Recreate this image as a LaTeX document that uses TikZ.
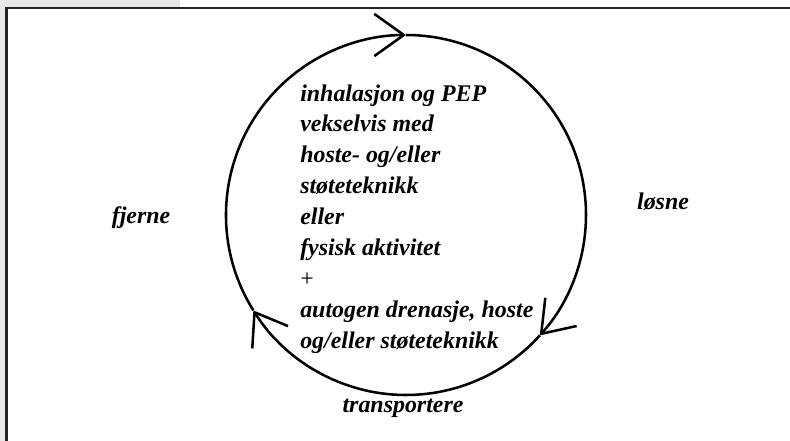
\documentclass[tikz,border=0pt]{standalone}
\usepackage{fontspec}
\setmainfont{Liberation Serif}
\usetikzlibrary{arrows.meta}
\definecolor{pagegray}{RGB}{230,231,232}
\definecolor{framegray}{RGB}{35,35,35}

\begin{document}
\begin{tikzpicture}[x=0.025cm,y=0.025cm,
                    cycle line/.style={line width=1.8pt,
                      -{Straight Barb[length=21pt,width=30pt,line width=1.8pt]}},
                    word node/.style={font=\fontsize{17}{22}\selectfont\bfseries\itshape,
                      inner sep=0pt}]
  \useasboundingbox (0,0) rectangle (790,-441);
  \fill[pagegray] (0,0) rectangle (180,-7.5);
  \fill[pagegray] (0,0) rectangle (5.5,-441);
  \draw[framegray,line width=1.5pt] (6.5,-441) |- (790,-8);

  \coordinate (c) at (406,-215);

  \node[word node,align=left,anchor=west] (tekst) at (300,-219)
    {inhalasjon og PEP\\vekselvis med\\hoste- og/eller\\st\o teteknikk\\eller\\
     fysisk aktivitet\\{\upshape\mdseries +}\\autogen drenasje, hoste\\og/eller st\o teteknikk};
  \node[word node,anchor=base] (fjerne) at (141,-223) {fjerne};
  \node[word node,anchor=base] (losne) at (663,-209) {l\o sne};
  \node[word node,anchor=base] (transp) at (403,-412) {transportere};

  % the cycle, clockwise
  \draw[cycle line] (c) ++(90:180) arc[start angle=90,end angle=-42,radius=180];
  \draw[cycle line] (c) ++(-42:180) arc[start angle=-42,end angle=-148,radius=180];
  \draw[cycle line] (c) ++(-148:180) arc[start angle=-148,end angle=-270,radius=180];
\end{tikzpicture}
\end{document}
